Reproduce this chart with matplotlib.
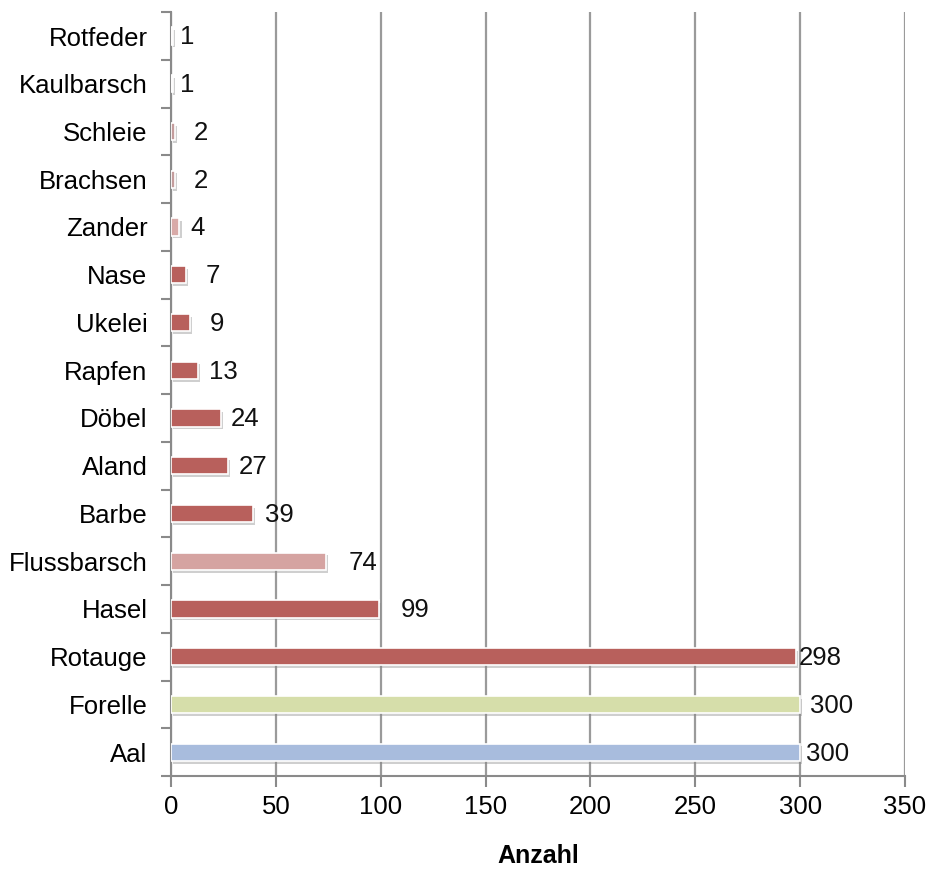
import matplotlib
matplotlib.use("Agg")
import matplotlib.pyplot as plt
import matplotlib.patheffects as pe
import numpy as np

plt.rcParams['font.family'] = ['Liberation Sans', 'DejaVu Sans']

# Fish species counts (listed bottom to top)
species = ["Aal", "Forelle", "Rotauge", "Hasel", "Flussbarsch", "Barbe", "Aland",
           "Döbel", "Rapfen", "Ukelei", "Nase", "Zander", "Brachsen", "Schleie",
           "Kaulbarsch", "Rotfeder"]
counts = [300, 300, 298, 99, 74, 39, 27, 24, 13, 9, 7, 4, 2, 2, 1, 1]
bar_colors = ["#A8BCDD", "#D6DEAA", "#B8605C", "#B8605C", "#D5A3A1", "#B8605C",
              "#B8605C", "#B8605C", "#B8605C", "#B8605C", "#B8605C", "#D8AAA8",
              "#C49C9C", "#C49C9C", "#F4EEEE", "#F4EEEE"]
# horizontal label offsets in points from the bar end
label_pad = [2, 5, 0, 14, 14, 7, 6, 5, 6, 12, 12, 6, 11, 11, 3, 3]

xticks = [0, 50, 100, 150, 200, 250, 300, 350]

fig = plt.figure(figsize=(9.26, 8.69), dpi=100)
ax = fig.add_axes([0.1847, 0.107, 0.7926, 0.879])

y = np.arange(len(species))
bars = ax.barh(y, counts, height=0.36, color=bar_colors, edgecolor="white",
               linewidth=1.2, zorder=3)
for b in bars:
    b.set_path_effects([pe.SimplePatchShadow(offset=(1.5, -2), shadow_rgbFace="#888888",
                                             alpha=0.4), pe.Normal()])

for yi, v, pad in zip(y, counts, label_pad):
    ax.annotate(str(v), xy=(v, yi), xytext=(pad + 2, -1), textcoords="offset points",
                va="center", ha="left", fontsize=18.5, color="#111111", zorder=4)

ax.set_xlim(0, 350)
ax.set_ylim(-0.5, len(species) - 0.5)
ax.set_xticks(xticks)
ax.set_xticklabels([str(t) for t in xticks], fontsize=18.5)
ax.set_yticks(y)
ax.set_yticklabels(species, fontsize=18.5)
ax.set_yticks(np.arange(-0.5, len(species), 1), minor=True)
ax.tick_params(axis="y", which="major", length=0, pad=17)
ax.tick_params(axis="y", which="minor", length=7, color="#8a8a8a", width=1.5)
ax.tick_params(axis="x", which="major", length=8, color="#8a8a8a", width=1.5, pad=6)

ax.grid(axis="x", color="#9a9a9a", linewidth=1.6, zorder=0)
for s in ["top", "right"]:
    ax.spines[s].set_visible(False)
for s in ["left", "bottom"]:
    ax.spines[s].set_color("#8a8a8a")
    ax.spines[s].set_linewidth(1.5)

ax.set_xlabel("Anzahl", fontsize=18, fontweight="bold", labelpad=18)

fig.savefig("out.png", dpi=100)
